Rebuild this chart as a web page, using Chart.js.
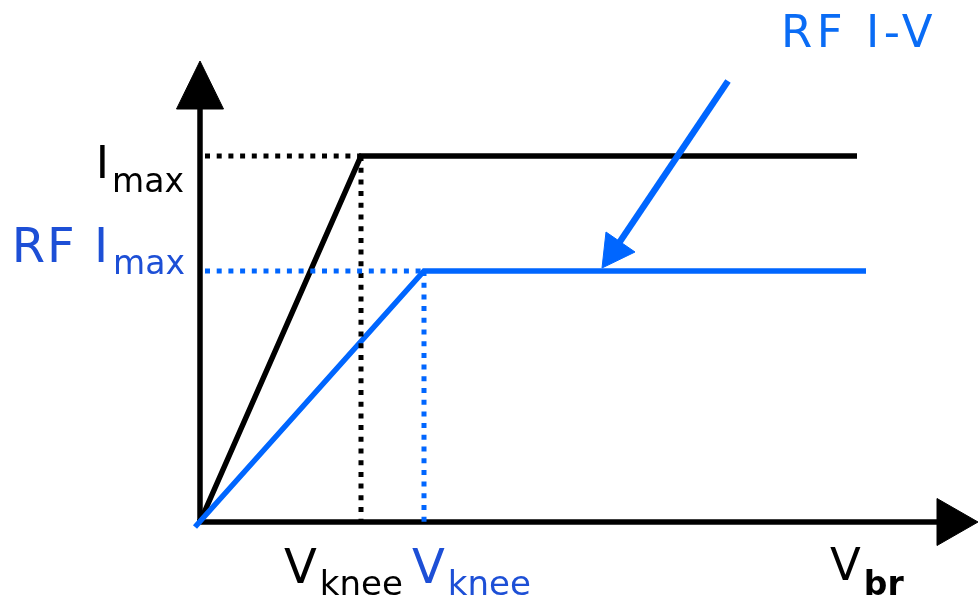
<!DOCTYPE html>
<html>
<head>
<meta charset="utf-8">
<script src="https://cdn.jsdelivr.net/npm/chart.js@4/dist/chart.umd.min.js"></script>
<style>
  html, body { margin: 0; padding: 0; background: #ffffff; }
  #wrap { width: 978px; height: 600px; position: relative; }
</style>
</head>
<body>
<div id="wrap"><canvas id="c" width="978" height="600"></canvas></div>
<script>
// ---- data (x: voltage units, y: current units, origin at axes corner) ----
const dcIV       = [[0, 0], [161, 366], [657, 366]];        // black DC I-V
const rfIV       = [[-5, -5], [224, 251], [666, 251]];       // blue RF I-V
const dcGuideH   = [[5, 366], [161, 366]];
const dcGuideV   = [[161, 366], [161, 0]];
const rfGuideH   = [[5, 251], [224, 251]];
const rfGuideV   = [[224, 251], [224, 0]];
const yAxisLine  = [[0, -2], [0, 414]];
const yAxisHead  = [[-23.5, 413], [0, 461], [23.5, 413], [-23.5, 413]];
const xAxisLine  = [[-3, 0], [738, 0]];
const xAxisHead  = [[737, 23.5], [778, 0], [737, -23.5], [737, 23.5]];
const pointerLine = [[528, 441], [419, 279]];
const pointerHead = [[402, 254], [406, 290], [435, 270], [402, 254]];
const Imax = 366, RFImax = 251, Vknee = 161, RFVknee = 224, Vbr = 657;
const tickLabels = {
  imax: ['I', 'max'], rfImax: ['RF I', 'max'],
  vknee: ['V', 'knee'], vbr: ['V', 'br'], title: 'RF I-V'
};

const BLACK = '#000000', BLUE = '#0066ff', LBLUE = '#1d4fd6', TBLUE = '#0a6cf5';
const pts = a => a.map(p => ({x: p[0], y: p[1]}));

function line(data, color, width, dash) {
  return { data: pts(data), showLine: true, borderColor: color, borderWidth: width,
    borderDash: dash || [], pointRadius: 0, tension: 0, clip: false,
    borderCapStyle: 'butt', borderJoinStyle: 'miter', fill: false };
}
function shape(data, color) {
  return { data: pts(data), showLine: true, borderColor: color, borderWidth: 1,
    backgroundColor: color, pointRadius: 0, tension: 0, clip: false, fill: 'shape' };
}

const FONT = '"DejaVu Sans", sans-serif';
function sub(ctx, main, s, x, base, color, mSize, sSize, drop, align, bold, ls) {
  ctx.save();
  ctx.fillStyle = color; ctx.textBaseline = 'alphabetic'; ctx.textAlign = 'left';
  ctx.font = mSize + 'px ' + FONT;
  ctx.letterSpacing = (ls || 0) + 'px';
  const w1 = ctx.measureText(main).width;
  ctx.letterSpacing = '0px';
  ctx.font = (bold ? 'bold ' : '') + sSize + 'px ' + FONT;
  const w2 = ctx.measureText(s).width;
  const gap = 3;
  let x0 = align === 'right' ? x - (w1 + gap + w2) : x;
  ctx.font = mSize + 'px ' + FONT;
  ctx.letterSpacing = (ls || 0) + 'px';
  ctx.fillText(main, x0, base);
  ctx.letterSpacing = '0px';
  ctx.font = (bold ? 'bold ' : '') + sSize + 'px ' + FONT;
  ctx.fillText(s, x0 + w1 + gap, base + drop);
  ctx.restore();
}

const labels = {
  id: 'labels',
  afterDatasetsDraw(chart) {
    const ctx = chart.ctx, xs = chart.scales.x, ys = chart.scales.y;
    const yI = ys.getPixelForValue(Imax), yR = ys.getPixelForValue(RFImax);
    const xK = xs.getPixelForValue(Vknee), xR = xs.getPixelForValue(RFVknee);
    const xB = xs.getPixelForValue(Vbr), x0 = xs.getPixelForValue(0);
    const yBase = ys.getPixelForValue(0);
    sub(ctx, tickLabels.imax[0], tickLabels.imax[1], x0 - 16, yI + 22, BLACK, 45, 33, 14, 'right');
    sub(ctx, tickLabels.rfImax[0], tickLabels.rfImax[1], x0 - 15, yR - 9, LBLUE, 48, 33, 12, 'right', false, 2);
    sub(ctx, tickLabels.vknee[0], tickLabels.vknee[1], xK - 77, yBase + 61, BLACK, 48, 34, 12, 'left');
    sub(ctx, tickLabels.vknee[0], tickLabels.vknee[1], xR - 12, yBase + 61, LBLUE, 48, 34, 12, 'left');
    sub(ctx, tickLabels.vbr[0], tickLabels.vbr[1], xB - 27, yBase + 58, BLACK, 45, 33, 15, 'left', true);
    ctx.save();
    ctx.fillStyle = TBLUE; ctx.font = '45px ' + FONT; ctx.textAlign = 'left';
    ctx.letterSpacing = '4.5px';
    ctx.fillText(tickLabels.title, xs.getPixelForValue(581), ys.getPixelForValue(475));
    ctx.restore();
  }
};

new Chart(document.getElementById('c'), {
  type: 'scatter',
  data: { datasets: [
    line(yAxisLine, BLACK, 5.5), shape(yAxisHead, BLACK),
    line(xAxisLine, BLACK, 5.5), shape(xAxisHead, BLACK),
    line(dcIV, BLACK, 5.5),
    line(rfIV, BLUE, 5.5),
    line(dcGuideH, BLACK, 5, [5, 6.7]), line(dcGuideV, BLACK, 5, [5, 6.7]),
    line(rfGuideH, BLUE, 5, [5, 6.7]), line(rfGuideV, BLUE, 5, [5, 6.7]),
    line(pointerLine, BLUE, 6.5), shape(pointerHead, BLUE)
  ].map((d, i, arr) => Object.assign(d, { order: arr.length - i })) },
  options: {
    responsive: false, devicePixelRatio: 1, animation: false,
    layout: { padding: 0 },
    scales: {
      x: { type: 'linear', min: -200, max: 778, display: false },
      y: { type: 'linear', min: -78, max: 522, display: false }
    },
    plugins: { legend: { display: false }, tooltip: { enabled: false } }
  },
  plugins: [labels]
});
</script>
</body>
</html>
